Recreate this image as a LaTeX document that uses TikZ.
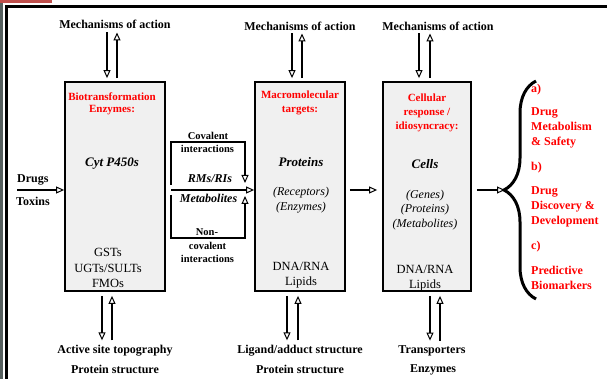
\documentclass[tikz,border=0pt]{standalone}
\usepackage{fontspec}
\setmainfont{Liberation Serif}
\usetikzlibrary{arrows.meta,decorations.pathreplacing}
\definecolor{strip}{HTML}{56605F}
\definecolor{bar}{HTML}{C0504D}

\begin{document}
\begin{tikzpicture}[x=1pt, y=-1pt,
    lbl/.style={font=\fontsize{12}{14}\selectfont\bfseries, inner sep=0pt},
    small/.style={font=\fontsize{10.5}{13}\selectfont\bfseries, inner sep=0pt, align=center},
    head/.style={font=\fontsize{11}{14}\selectfont\bfseries, text=red, inner sep=0pt, align=center},
    big/.style={font=\fontsize{13}{15}\selectfont\bfseries\itshape, inner sep=0pt},
    plain/.style={font=\fontsize{12.5}{15.3}\selectfont, inner sep=0pt, align=center},
    slant/.style={font=\fontsize{12}{14.8}\selectfont\itshape, inner sep=0pt, align=center},
    goal/.style={font=\fontsize{12}{15}\selectfont\bfseries, text=red, inner sep=0pt, align=left, anchor=west},
    stage/.style={draw, line width=1.8pt, fill=black!6, minimum height=209pt, inner sep=0pt},
    flow/.style={line width=1.4pt, -{Triangle[open, length=8pt, width=7pt, line width=1pt]}}]

    \useasboundingbox (0,0) rectangle (607,379);

    % frame
    \fill[strip] (0,0) rectangle (3,379);
    \fill[bar] (0,0) rectangle (52,3);
    \draw[line width=3pt] (6.5,379) -- (6.5,6.5) -- (607,6.5);

    % Stage boxes
    \node[stage, minimum width=100pt] (bio) at (115,186.5) {};
    \node[stage, minimum width=90pt] (target) at (300,186.5) {};
    \node[stage, minimum width=88pt] (cell) at (427,186.5) {};

    % Biotransformation enzymes
    \node[head, font=\fontsize{11}{12.5}\selectfont\bfseries] (bioHead) at (112,104) {Biotransformation\\Enzymes:};
    \node[big] (cyp) at (112,164) {Cyt P450s};
    \node[plain] (conj) at (108,268) {GSTs\\UGTs/SULTs\\FMOs};

    % Macromolecular targets
    \node[head] (targetHead) at (300,103) {Macromolecular\\targets:};
    \node[big] (prot) at (301,162) {Proteins};
    \node[slant] (recep) at (301,200) {(Receptors)\\(Enzymes)};
    \node[plain] (nucA) at (301,275) {DNA/RNA\\Lipids};

    % Cellular response
    \node[head] (cellHead) at (427,112.5) {Cellular\\response /\\idiosyncracy:};
    \node[big] (cells) at (425,164) {Cells};
    \node[slant] (genes) at (425,210) {(Genes)\\(Proteins)\\(Metabolites)};
    \node[plain] (nucB) at (425,278) {DNA/RNA\\Lipids};

    % Mechanisms of action
    \node[lbl] (mechA) at (115,24) {Mechanisms of action};
    \node[lbl] (mechB) at (300,26) {Mechanisms of action};
    \node[lbl] (mechC) at (438,26) {Mechanisms of action};
    \draw[flow, shorten <=4pt, shorten >=3pt] ([xshift=-8pt]bio.north |- mechA.south) -- ([xshift=-8pt]bio.north);
    \draw[flow, shorten <=3pt, shorten >=4pt] ([xshift=2pt]bio.north) -- ([xshift=2pt]bio.north |- mechA.south);
    \draw[flow, shorten <=3pt, shorten >=3pt] ([xshift=-8pt]target.north |- mechB.south) -- ([xshift=-8pt]target.north);
    \draw[flow, shorten <=3pt, shorten >=3pt] ([xshift=2pt]target.north) -- ([xshift=2pt]target.north |- mechB.south);
    \draw[flow, shorten <=3pt, shorten >=3pt] ([xshift=-8pt]cell.north |- mechC.south) -- ([xshift=-8pt]cell.north);
    \draw[flow, shorten <=3pt, shorten >=3pt] ([xshift=3pt]cell.north) -- ([xshift=3pt]cell.north |- mechC.south);

    % Structure labels
    \node[lbl] (siteA) at (115,351) {Active site topography};
    \node[lbl] (structA) at (115,369.5) {Protein structure};
    \node[lbl] (siteB) at (300,351) {Ligand/adduct structure};
    \node[lbl] (structB) at (300,369.5) {Protein structure};
    \node[lbl] (siteC) at (432,351) {Transporters};
    \node[lbl] (structC) at (433,369.5) {Enzymes};
    \draw[flow, shorten <=4pt, shorten >=5pt] ([xshift=-13pt]bio.south) -- ([xshift=-13pt]bio.south |- siteA.north);
    \draw[flow, shorten <=5pt, shorten >=4pt] ([xshift=-3pt]bio.south |- siteA.north) -- ([xshift=-3pt]bio.south);
    \draw[flow, shorten <=4pt, shorten >=5pt] ([xshift=-13pt]target.south) -- ([xshift=-13pt]target.south |- siteB.north);
    \draw[flow, shorten <=5pt, shorten >=4pt] ([xshift=-2pt]target.south |- siteB.north) -- ([xshift=-2pt]target.south);
    \draw[flow, shorten <=4pt, shorten >=5pt] ([xshift=3pt]cell.south) -- ([xshift=3pt]cell.south |- siteC.north);
    \draw[flow, shorten <=5pt, shorten >=4pt] ([xshift=13pt]cell.south |- siteC.north) -- ([xshift=13pt]cell.south);

    % Drugs / Toxins
    \node[lbl, anchor=west] (drugs) at (17,180) {Drugs};
    \node[lbl, anchor=west] (toxins) at (16,201.5) {Toxins};
    \coordinate (drugin) at (17,190);
    \draw[flow] (drugin) -- (drugin -| bio.west);

    % Reactive metabolites
    \coordinate (hubL) at (171,190);
    \coordinate (hubR) at (245,190);
    \draw[flow] ([yshift=5pt]hubL) |- ([yshift=48pt]hubR) -- ([yshift=7pt]hubR);
    \draw[flow] (hubL) -- (target.west |- hubL);
    \draw[flow] ([yshift=-5pt]hubL) |- ([yshift=-48pt]hubR) -- ([yshift=-6pt]hubR);
    \node[small, fill=white, inner sep=1pt] (cov) at (208,136) {Covalent};
    \node[small] (covInt) at (207.5,148.5) {interactions};
    \node[lbl, font=\fontsize{12}{14}\selectfont\bfseries\itshape] (rms) at (210,178.5) {RMs/RIs};
    \node[lbl, font=\fontsize{12}{14}\selectfont\bfseries\itshape] (metab) at (208.5,198) {Metabolites};
    \node[small] (non) at (207,232.5) {Non-};
    \node[small] (nonInt) at (207.5,252.5) {covalent\\interactions};

    % Targets to cells to outcomes
    \draw[flow] ([xshift=4pt]target.east |- hubL) -- ([xshift=-5pt]cell.west |- hubL);
    \coordinate (bracetip) at (505,190);
    \draw[flow] ([xshift=5pt]cell.east |- hubL) -- (bracetip);
    \draw[line width=3pt, decorate, decoration={brace, amplitude=32pt}] (536,299) -- (536,81);

    % Outcomes
    \node[goal] (ga) at (531,90) {a)};
    \node[goal] (gaText) at (531,128) {Drug\\Metabolism\\\& Safety};
    \node[goal] (gb) at (531,168) {b)};
    \node[goal] (gbText) at (531,207) {Drug\\Discovery \&\\Development};
    \node[goal] (gc) at (531,247) {c)};
    \node[goal] (gcText) at (531,277.5) {Predictive\\Biomarkers};

\end{tikzpicture}
\end{document}
